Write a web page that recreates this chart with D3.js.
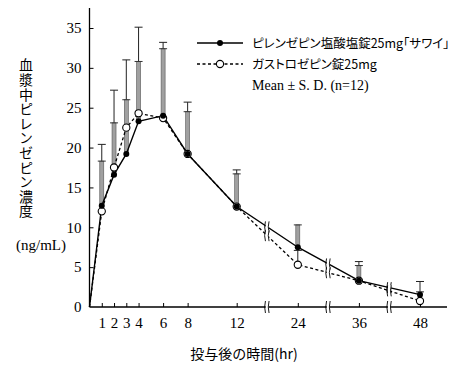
<!DOCTYPE html>
<html><head><meta charset="utf-8">
<script src="https://cdn.jsdelivr.net/npm/d3@7"></script>
<style>
html,body{margin:0;padding:0;background:#fff;}
svg{display:block;}
.jp{font-family:"Noto Sans CJK JP","Noto Sans",sans-serif;}
.num{font-family:"Liberation Serif","DejaVu Serif",serif;}
</style></head>
<body>
<svg id="chart" width="450" height="365"></svg>
<script>
// ---- data ----
const times = [0, 1, 2, 3, 4, 6, 8, 12, 24, 36, 48];
const sawai = [0, 12.7, 16.6, 19.2, 23.3, 24.0, 19.2, 12.6, 7.5, 3.3, 1.55];
const gastro = [0, 12.0, 17.5, 22.5, 24.3, 23.7, 19.2, 12.6, 5.3, 3.3, 0.75];
const sawaiUpper = [null, 18.3, 23.1, 26.0, 30.8, 32.4, 24.5, 16.7, 10.3, 5.2, 1.9];
const gastroUpper = [null, 20.4, 27.2, 31.0, 35.1, 33.2, 25.7, 17.2, 7.1, 5.7, 3.2];
const xTicks = [1, 2, 3, 4, 6, 8, 12, 24, 36, 48];
const yTicks = [0, 5, 10, 15, 20, 25, 30, 35];
const breaks = [18, 30, 42];
const seriesNames = ["ピレンゼピン塩酸塩錠25mg「サワイ」", "ガストロゼピン錠25mg"];
const noteText = "Mean ± S. D. (n=12)";
const yTitle = "血漿中ピレンゼピン濃度";
const yUnit = "(ng/mL)";
const xTitle = "投与後の時間(hr)";

const svg = d3.select("#chart");
const x = d3.scaleLinear().domain([0, 12, 48]).range([89.5, 236.7, 420]);
const y = d3.scaleLinear().domain([0, 35]).range([307, 28]);

// axes
const gx = svg.append("g").attr("transform", `translate(0,${y(0)})`)
  .call(d3.axisBottom(x).tickValues(xTicks).tickSizeInner(-4).tickSizeOuter(0).tickPadding(10));
gx.select(".domain").attr("d", `M${x(0)},0H447`).attr("stroke", "#000").attr("stroke-width", 1.3);
gx.selectAll("text").attr("class", "num").attr("font-size", 15).attr("fill", "#000");
gx.selectAll("line").attr("stroke", "#000");

const gy = svg.append("g").attr("transform", `translate(${x(0)},0)`)
  .call(d3.axisLeft(y).tickValues(yTicks).tickSizeInner(-4).tickSizeOuter(0).tickPadding(8));
gy.select(".domain").attr("d", `M0,${y(0)}V8`).attr("stroke", "#000").attr("stroke-width", 1.3);
gy.selectAll("text").attr("class", "num").attr("font-size", 15).attr("fill", "#000");
gy.selectAll("line").attr("stroke", "#000");
gy.selectAll(".tick").filter(d => d === 0).select("line").remove();

// error bars
const idx = d3.range(1, times.length);
const capW = 8;
const eb = svg.append("g");
idx.forEach(i => {
  const cx = x(times[i]);
  // thin black (gastro)
  eb.append("line").attr("x1", cx).attr("x2", cx).attr("y1", y(gastro[i])).attr("y2", y(gastroUpper[i]))
    .attr("stroke", "#222").attr("stroke-width", 1);
  eb.append("line").attr("x1", cx - capW / 2).attr("x2", cx + capW / 2).attr("y1", y(gastroUpper[i])).attr("y2", y(gastroUpper[i]))
    .attr("stroke", "#222").attr("stroke-width", 1);
});
idx.forEach(i => {
  const cx = x(times[i]);
  // gray bar (sawai)
  eb.append("rect").attr("x", cx - 2).attr("width", 4)
    .attr("y", y(sawaiUpper[i])).attr("height", Math.max(0, y(sawai[i]) - y(sawaiUpper[i])))
    .attr("fill", "#a0a0a0").attr("stroke", "#555").attr("stroke-width", 0.6);
  eb.append("line").attr("x1", cx - capW / 2).attr("x2", cx + capW / 2).attr("y1", y(sawaiUpper[i])).attr("y2", y(sawaiUpper[i]))
    .attr("stroke", "#333").attr("stroke-width", 1);
});

// lines
const line = d3.line().x((d, i) => x(times[i])).y(d => y(d));
svg.append("path").datum(gastro).attr("d", line).attr("fill", "none")
  .attr("stroke", "#000").attr("stroke-width", 1.3).attr("stroke-dasharray", "3,2.5");
svg.append("path").datum(sawai).attr("d", line).attr("fill", "none")
  .attr("stroke", "#000").attr("stroke-width", 1.4);

// break marks
function interp(vals, t) {
  for (let i = 0; i < times.length - 1; i++) {
    if (t >= times[i] && t <= times[i + 1]) {
      const f = (t - times[i]) / (times[i + 1] - times[i]);
      return y(vals[i]) + f * (y(vals[i + 1]) - y(vals[i]));
    }
  }
}
function breakMark(bx, by, h) {
  const g = svg.append("g");
  g.append("rect").attr("x", bx - 1.5).attr("y", by - h / 2).attr("width", 3).attr("height", h).attr("fill", "#fff");
  [-1.8, 1.8].forEach(o => {
    g.append("path").attr("d", `M${bx + o},${by - h / 2} Q${bx + o - 1.6},${by} ${bx + o},${by + h / 2}`)
      .attr("fill", "none").attr("stroke", "#000").attr("stroke-width", 0.9);
  });
}
breaks.forEach(b => {
  breakMark(x(b), y(0), 12);
  breakMark(x(b), interp(sawai, b), 11);
  breakMark(x(b), interp(gastro, b), 11);
});

// markers
svg.append("g").selectAll("circle").data(gastro.slice(1)).join("circle")
  .attr("cx", (d, i) => x(times[i + 1])).attr("cy", d => y(d)).attr("r", 3.6)
  .attr("fill", "#fff").attr("stroke", "#000").attr("stroke-width", 1.1);
svg.append("g").selectAll("circle").data(sawai.slice(1)).join("circle")
  .attr("cx", (d, i) => x(times[i + 1])).attr("cy", d => y(d)).attr("r", 3)
  .attr("fill", "#000");

// legend
const lg = svg.append("g");
lg.append("line").attr("x1", 197).attr("x2", 243).attr("y1", 43).attr("y2", 43).attr("stroke", "#000").attr("stroke-width", 1.4);
lg.append("circle").attr("cx", 220).attr("cy", 43).attr("r", 3).attr("fill", "#000");
lg.append("line").attr("x1", 197).attr("x2", 243).attr("y1", 64).attr("y2", 64).attr("stroke", "#000").attr("stroke-width", 1.3).attr("stroke-dasharray", "3,2.5");
lg.append("circle").attr("cx", 220).attr("cy", 64).attr("r", 3.6).attr("fill", "#fff").attr("stroke", "#000").attr("stroke-width", 1.1);
lg.append("text").attr("class", "jp").attr("x", 252).attr("y", 47.5).attr("font-size", 12.5)
  .style("font-feature-settings", '"palt"').text(seriesNames[0]);
lg.append("text").attr("class", "jp").attr("x", 252).attr("y", 68.5).attr("font-size", 12.5)
  .style("font-feature-settings", '"palt"').text(seriesNames[1]);
lg.append("text").attr("class", "num").attr("x", 252).attr("y", 90).attr("font-size", 14).text(noteText);

// axis titles
svg.append("text").attr("class", "jp").attr("x", 26).attr("y", 58).attr("font-size", 14)
  .attr("writing-mode", "vertical-rl")
  .style("writing-mode", "vertical-rl").style("text-orientation", "upright").style("letter-spacing", "0.6px")
  .text(yTitle);
svg.append("text").attr("class", "num").attr("x", 41).attr("y", 250).attr("font-size", 15)
  .attr("text-anchor", "middle").text(yUnit);
svg.append("text").attr("class", "jp").attr("x", 244).attr("y", 359).attr("font-size", 14)
  .attr("text-anchor", "middle").text(xTitle);
</script>
</body></html>
